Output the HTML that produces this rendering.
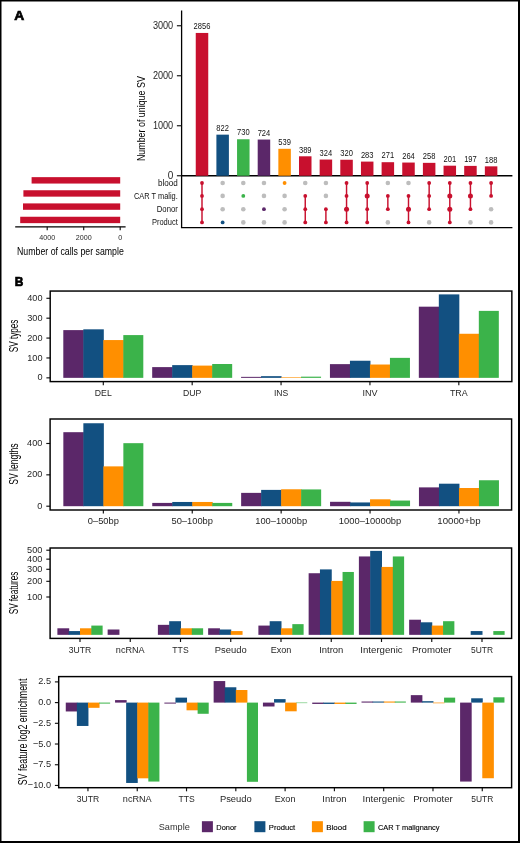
<!DOCTYPE html>
<html><head><meta charset="utf-8"><style>
html,body{margin:0;padding:0;background:#fff;}
svg{display:block;will-change:transform;}
text{font-family:"Liberation Sans", sans-serif;}
</style></head><body>
<svg width="520" height="843" viewBox="0 0 520 843">
<rect x="0" y="0" width="520" height="843" fill="#000"/>
<rect x="1.5" y="1.5" width="516.5" height="839.5" fill="#fff"/>
<text x="14.20" y="20.30" font-size="13.6" fill="#000" text-anchor="start" font-weight="bold" stroke="#000" stroke-width="0.7" textLength="10" lengthAdjust="spacingAndGlyphs">A</text>
<text x="14.80" y="286.30" font-size="12.6" fill="#000" text-anchor="start" font-weight="bold" stroke="#000" stroke-width="0.7" textLength="8.6" lengthAdjust="spacingAndGlyphs">B</text>
<line x1="181.60" y1="10.50" x2="181.60" y2="175.75" stroke="#000" stroke-width="1.3"/>
<line x1="180.95" y1="175.75" x2="512.40" y2="175.75" stroke="#000" stroke-width="1.3"/>
<line x1="176.90" y1="175.75" x2="181.60" y2="175.75" stroke="#111" stroke-width="1.15"/>
<text x="173.20" y="178.75" font-size="10" fill="#262626" text-anchor="end">0</text>
<line x1="176.90" y1="125.75" x2="181.60" y2="125.75" stroke="#111" stroke-width="1.15"/>
<text x="173.20" y="128.75" font-size="10" fill="#262626" text-anchor="end" textLength="20.30" lengthAdjust="spacingAndGlyphs">1000</text>
<line x1="176.90" y1="75.75" x2="181.60" y2="75.75" stroke="#111" stroke-width="1.15"/>
<text x="173.20" y="78.75" font-size="10" fill="#262626" text-anchor="end" textLength="20.30" lengthAdjust="spacingAndGlyphs">2000</text>
<line x1="176.90" y1="25.75" x2="181.60" y2="25.75" stroke="#111" stroke-width="1.15"/>
<text x="173.20" y="28.75" font-size="10" fill="#262626" text-anchor="end" textLength="20.30" lengthAdjust="spacingAndGlyphs">3000</text>
<text x="145.20" y="118.65" font-size="11" fill="#000" text-anchor="middle" textLength="84.90" lengthAdjust="spacingAndGlyphs" transform="rotate(-90 145.20 118.65)">Number of unique SV</text>
<rect x="195.75" y="32.95" width="12.50" height="142.80" fill="#c8102e"/>
<text x="202.00" y="29.15" font-size="8.3" fill="#111" text-anchor="middle" textLength="16.80" lengthAdjust="spacingAndGlyphs">2856</text>
<rect x="216.40" y="134.65" width="12.50" height="41.10" fill="#125081"/>
<text x="222.65" y="130.85" font-size="8.3" fill="#111" text-anchor="middle" textLength="12.60" lengthAdjust="spacingAndGlyphs">822</text>
<rect x="237.05" y="139.25" width="12.50" height="36.50" fill="#3bb34a"/>
<text x="243.30" y="135.45" font-size="8.3" fill="#111" text-anchor="middle" textLength="12.60" lengthAdjust="spacingAndGlyphs">730</text>
<rect x="257.70" y="139.55" width="12.50" height="36.20" fill="#5b2769"/>
<text x="263.95" y="135.75" font-size="8.3" fill="#111" text-anchor="middle" textLength="12.60" lengthAdjust="spacingAndGlyphs">724</text>
<rect x="278.35" y="148.80" width="12.50" height="26.95" fill="#ff8f00"/>
<text x="284.60" y="145.00" font-size="8.3" fill="#111" text-anchor="middle" textLength="12.60" lengthAdjust="spacingAndGlyphs">539</text>
<rect x="299.00" y="156.30" width="12.50" height="19.45" fill="#c8102e"/>
<text x="305.25" y="152.50" font-size="8.3" fill="#111" text-anchor="middle" textLength="12.60" lengthAdjust="spacingAndGlyphs">389</text>
<rect x="319.65" y="159.55" width="12.50" height="16.20" fill="#c8102e"/>
<text x="325.90" y="155.75" font-size="8.3" fill="#111" text-anchor="middle" textLength="12.60" lengthAdjust="spacingAndGlyphs">324</text>
<rect x="340.30" y="159.75" width="12.50" height="16.00" fill="#c8102e"/>
<text x="346.55" y="155.95" font-size="8.3" fill="#111" text-anchor="middle" textLength="12.60" lengthAdjust="spacingAndGlyphs">320</text>
<rect x="360.95" y="161.60" width="12.50" height="14.15" fill="#c8102e"/>
<text x="367.20" y="157.80" font-size="8.3" fill="#111" text-anchor="middle" textLength="12.60" lengthAdjust="spacingAndGlyphs">283</text>
<rect x="381.60" y="162.20" width="12.50" height="13.55" fill="#c8102e"/>
<text x="387.85" y="158.40" font-size="8.3" fill="#111" text-anchor="middle" textLength="12.60" lengthAdjust="spacingAndGlyphs">271</text>
<rect x="402.25" y="162.55" width="12.50" height="13.20" fill="#c8102e"/>
<text x="408.50" y="158.75" font-size="8.3" fill="#111" text-anchor="middle" textLength="12.60" lengthAdjust="spacingAndGlyphs">264</text>
<rect x="422.90" y="162.85" width="12.50" height="12.90" fill="#c8102e"/>
<text x="429.15" y="159.05" font-size="8.3" fill="#111" text-anchor="middle" textLength="12.60" lengthAdjust="spacingAndGlyphs">258</text>
<rect x="443.55" y="165.70" width="12.50" height="10.05" fill="#c8102e"/>
<text x="449.80" y="161.90" font-size="8.3" fill="#111" text-anchor="middle" textLength="12.60" lengthAdjust="spacingAndGlyphs">201</text>
<rect x="464.20" y="165.90" width="12.50" height="9.85" fill="#c8102e"/>
<text x="470.45" y="162.10" font-size="8.3" fill="#111" text-anchor="middle" textLength="12.60" lengthAdjust="spacingAndGlyphs">197</text>
<rect x="484.85" y="166.35" width="12.50" height="9.40" fill="#c8102e"/>
<text x="491.10" y="162.55" font-size="8.3" fill="#111" text-anchor="middle" textLength="12.60" lengthAdjust="spacingAndGlyphs">188</text>
<line x1="181.60" y1="175.75" x2="181.60" y2="227.70" stroke="#000" stroke-width="1.3"/>
<line x1="180.95" y1="227.70" x2="512.40" y2="227.70" stroke="#000" stroke-width="1.3"/>
<text x="177.80" y="185.70" font-size="8.6" fill="#111" text-anchor="end" textLength="19.80" lengthAdjust="spacingAndGlyphs">blood</text>
<text x="177.80" y="198.70" font-size="8.6" fill="#111" text-anchor="end" textLength="43.80" lengthAdjust="spacingAndGlyphs">CAR T malig.</text>
<text x="177.80" y="212.00" font-size="8.6" fill="#111" text-anchor="end" textLength="21.00" lengthAdjust="spacingAndGlyphs">Donor</text>
<text x="177.80" y="225.00" font-size="8.6" fill="#111" text-anchor="end" textLength="25.90" lengthAdjust="spacingAndGlyphs">Product</text>
<line x1="202.00" y1="183.00" x2="202.00" y2="222.40" stroke="#c8102e" stroke-width="1.45"/>
<circle cx="202.00" cy="183.00" r="1.9" fill="#c8102e"/>
<circle cx="202.00" cy="195.90" r="1.9" fill="#c8102e"/>
<circle cx="202.00" cy="209.20" r="1.9" fill="#c8102e"/>
<circle cx="202.00" cy="222.40" r="1.9" fill="#c8102e"/>
<circle cx="222.65" cy="183.00" r="2.3" fill="#bdbdbd"/>
<circle cx="222.65" cy="195.90" r="2.3" fill="#bdbdbd"/>
<circle cx="222.65" cy="209.20" r="2.3" fill="#bdbdbd"/>
<circle cx="222.65" cy="222.40" r="1.9" fill="#125081"/>
<circle cx="243.30" cy="183.00" r="2.3" fill="#bdbdbd"/>
<circle cx="243.30" cy="209.20" r="2.3" fill="#bdbdbd"/>
<circle cx="243.30" cy="222.40" r="2.3" fill="#bdbdbd"/>
<circle cx="243.30" cy="195.90" r="1.9" fill="#3bb34a"/>
<circle cx="263.95" cy="183.00" r="2.3" fill="#bdbdbd"/>
<circle cx="263.95" cy="195.90" r="2.3" fill="#bdbdbd"/>
<circle cx="263.95" cy="222.40" r="2.3" fill="#bdbdbd"/>
<circle cx="263.95" cy="209.20" r="1.9" fill="#5b2769"/>
<circle cx="284.60" cy="195.90" r="2.3" fill="#bdbdbd"/>
<circle cx="284.60" cy="209.20" r="2.3" fill="#bdbdbd"/>
<circle cx="284.60" cy="222.40" r="2.3" fill="#bdbdbd"/>
<circle cx="284.60" cy="183.00" r="1.9" fill="#ff8f00"/>
<circle cx="305.25" cy="183.00" r="2.3" fill="#bdbdbd"/>
<line x1="305.25" y1="195.90" x2="305.25" y2="222.40" stroke="#c8102e" stroke-width="1.45"/>
<circle cx="305.25" cy="195.90" r="1.9" fill="#c8102e"/>
<circle cx="305.25" cy="209.20" r="1.9" fill="#c8102e"/>
<circle cx="305.25" cy="222.40" r="1.9" fill="#c8102e"/>
<circle cx="325.90" cy="183.00" r="2.3" fill="#bdbdbd"/>
<circle cx="325.90" cy="195.90" r="2.3" fill="#bdbdbd"/>
<line x1="325.90" y1="209.20" x2="325.90" y2="222.40" stroke="#c8102e" stroke-width="1.45"/>
<circle cx="325.90" cy="209.20" r="1.9" fill="#c8102e"/>
<circle cx="325.90" cy="222.40" r="1.9" fill="#c8102e"/>
<line x1="346.55" y1="183.00" x2="346.55" y2="222.40" stroke="#c8102e" stroke-width="1.45"/>
<circle cx="346.55" cy="183.00" r="1.9" fill="#c8102e"/>
<circle cx="346.55" cy="195.90" r="1.9" fill="#c8102e"/>
<circle cx="346.55" cy="209.20" r="2.5" fill="#c8102e"/>
<circle cx="346.55" cy="222.40" r="1.9" fill="#c8102e"/>
<line x1="367.20" y1="183.00" x2="367.20" y2="222.40" stroke="#c8102e" stroke-width="1.45"/>
<circle cx="367.20" cy="183.00" r="1.9" fill="#c8102e"/>
<circle cx="367.20" cy="195.90" r="2.5" fill="#c8102e"/>
<circle cx="367.20" cy="209.20" r="1.9" fill="#c8102e"/>
<circle cx="367.20" cy="222.40" r="1.9" fill="#c8102e"/>
<circle cx="387.85" cy="183.00" r="2.3" fill="#bdbdbd"/>
<circle cx="387.85" cy="222.40" r="2.3" fill="#bdbdbd"/>
<line x1="387.85" y1="195.90" x2="387.85" y2="209.20" stroke="#c8102e" stroke-width="1.45"/>
<circle cx="387.85" cy="195.90" r="1.9" fill="#c8102e"/>
<circle cx="387.85" cy="209.20" r="1.9" fill="#c8102e"/>
<circle cx="408.50" cy="183.00" r="2.3" fill="#bdbdbd"/>
<line x1="408.50" y1="195.90" x2="408.50" y2="222.40" stroke="#c8102e" stroke-width="1.45"/>
<circle cx="408.50" cy="195.90" r="1.9" fill="#c8102e"/>
<circle cx="408.50" cy="209.20" r="2.5" fill="#c8102e"/>
<circle cx="408.50" cy="222.40" r="1.9" fill="#c8102e"/>
<circle cx="429.15" cy="222.40" r="2.3" fill="#bdbdbd"/>
<line x1="429.15" y1="183.00" x2="429.15" y2="209.20" stroke="#c8102e" stroke-width="1.45"/>
<circle cx="429.15" cy="183.00" r="1.9" fill="#c8102e"/>
<circle cx="429.15" cy="195.90" r="1.9" fill="#c8102e"/>
<circle cx="429.15" cy="209.20" r="1.9" fill="#c8102e"/>
<line x1="449.80" y1="183.00" x2="449.80" y2="222.40" stroke="#c8102e" stroke-width="1.45"/>
<circle cx="449.80" cy="183.00" r="1.9" fill="#c8102e"/>
<circle cx="449.80" cy="195.90" r="2.5" fill="#c8102e"/>
<circle cx="449.80" cy="209.20" r="2.5" fill="#c8102e"/>
<circle cx="449.80" cy="222.40" r="1.9" fill="#c8102e"/>
<circle cx="470.45" cy="222.40" r="2.3" fill="#bdbdbd"/>
<line x1="470.45" y1="183.00" x2="470.45" y2="209.20" stroke="#c8102e" stroke-width="1.45"/>
<circle cx="470.45" cy="183.00" r="1.9" fill="#c8102e"/>
<circle cx="470.45" cy="195.90" r="2.5" fill="#c8102e"/>
<circle cx="470.45" cy="209.20" r="1.9" fill="#c8102e"/>
<circle cx="491.10" cy="209.20" r="2.3" fill="#bdbdbd"/>
<circle cx="491.10" cy="222.40" r="2.3" fill="#bdbdbd"/>
<line x1="491.10" y1="183.00" x2="491.10" y2="195.90" stroke="#c8102e" stroke-width="1.45"/>
<circle cx="491.10" cy="183.00" r="1.9" fill="#c8102e"/>
<circle cx="491.10" cy="195.90" r="1.9" fill="#c8102e"/>
<line x1="15.20" y1="226.85" x2="125.60" y2="226.85" stroke="#000" stroke-width="1.3"/>
<line x1="47.20" y1="226.85" x2="47.20" y2="230.30" stroke="#111" stroke-width="1.15"/>
<text x="47.20" y="239.90" font-size="8.1" fill="#262626" text-anchor="middle" textLength="15.90" lengthAdjust="spacingAndGlyphs">4000</text>
<line x1="83.70" y1="226.85" x2="83.70" y2="230.30" stroke="#111" stroke-width="1.15"/>
<text x="83.70" y="239.90" font-size="8.1" fill="#262626" text-anchor="middle" textLength="15.90" lengthAdjust="spacingAndGlyphs">2000</text>
<line x1="120.20" y1="226.85" x2="120.20" y2="230.30" stroke="#111" stroke-width="1.15"/>
<text x="120.20" y="239.90" font-size="8.1" fill="#262626" text-anchor="middle" textLength="4.00" lengthAdjust="spacingAndGlyphs">0</text>
<rect x="31.60" y="177.15" width="88.60" height="6.40" fill="#c8102e"/>
<rect x="23.40" y="190.25" width="96.80" height="6.40" fill="#c8102e"/>
<rect x="23.00" y="203.40" width="97.20" height="6.40" fill="#c8102e"/>
<rect x="20.21" y="216.75" width="99.99" height="6.40" fill="#c8102e"/>
<text x="70.40" y="255.10" font-size="11" fill="#000" text-anchor="middle" textLength="106.75" lengthAdjust="spacingAndGlyphs">Number of calls per sample</text>
<rect x="63.30" y="330.11" width="20.50" height="47.74" fill="#5b2769"/>
<rect x="83.30" y="329.32" width="20.50" height="48.53" fill="#125081"/>
<rect x="103.30" y="340.06" width="20.50" height="37.79" fill="#ff8f00"/>
<rect x="123.30" y="335.09" width="20.00" height="42.76" fill="#3bb34a"/>
<line x1="103.30" y1="381.60" x2="103.30" y2="385.20" stroke="#111" stroke-width="1.15"/>
<text x="103.30" y="396.00" font-size="9.6" fill="#262626" text-anchor="middle" textLength="16.90" lengthAdjust="spacingAndGlyphs">DEL</text>
<rect x="152.18" y="367.11" width="20.50" height="10.74" fill="#5b2769"/>
<rect x="172.18" y="365.12" width="20.50" height="12.73" fill="#125081"/>
<rect x="192.18" y="365.60" width="20.50" height="12.25" fill="#ff8f00"/>
<rect x="212.18" y="364.01" width="20.00" height="13.84" fill="#3bb34a"/>
<line x1="192.18" y1="381.60" x2="192.18" y2="385.20" stroke="#111" stroke-width="1.15"/>
<text x="192.18" y="396.00" font-size="9.6" fill="#262626" text-anchor="middle" textLength="18.30" lengthAdjust="spacingAndGlyphs">DUP</text>
<rect x="241.06" y="376.86" width="20.50" height="0.99" fill="#5b2769"/>
<rect x="261.06" y="376.16" width="20.50" height="1.69" fill="#125081"/>
<rect x="281.06" y="377.25" width="20.50" height="0.60" fill="#ff8f00"/>
<rect x="301.06" y="376.66" width="20.00" height="1.19" fill="#3bb34a"/>
<line x1="281.06" y1="381.60" x2="281.06" y2="385.20" stroke="#111" stroke-width="1.15"/>
<text x="281.06" y="396.00" font-size="9.6" fill="#262626" text-anchor="middle" textLength="14.30" lengthAdjust="spacingAndGlyphs">INS</text>
<rect x="329.94" y="364.13" width="20.50" height="13.72" fill="#5b2769"/>
<rect x="349.94" y="360.74" width="20.50" height="17.11" fill="#125081"/>
<rect x="369.94" y="364.52" width="20.50" height="13.33" fill="#ff8f00"/>
<rect x="389.94" y="357.86" width="20.00" height="19.99" fill="#3bb34a"/>
<line x1="369.94" y1="381.60" x2="369.94" y2="385.20" stroke="#111" stroke-width="1.15"/>
<text x="369.94" y="396.00" font-size="9.6" fill="#262626" text-anchor="middle" textLength="15.00" lengthAdjust="spacingAndGlyphs">INV</text>
<rect x="418.82" y="306.68" width="20.50" height="71.17" fill="#5b2769"/>
<rect x="438.82" y="294.39" width="20.50" height="83.46" fill="#125081"/>
<rect x="458.82" y="333.77" width="20.50" height="44.08" fill="#ff8f00"/>
<rect x="478.82" y="310.88" width="20.00" height="66.97" fill="#3bb34a"/>
<line x1="458.82" y1="381.60" x2="458.82" y2="385.20" stroke="#111" stroke-width="1.15"/>
<text x="458.82" y="396.00" font-size="9.6" fill="#262626" text-anchor="middle" textLength="17.80" lengthAdjust="spacingAndGlyphs">TRA</text>
<line x1="46.40" y1="377.85" x2="50.20" y2="377.85" stroke="#111" stroke-width="1.15"/>
<text x="42.50" y="380.45" font-size="9.6" fill="#262626" text-anchor="end" textLength="5.10" lengthAdjust="spacingAndGlyphs">0</text>
<line x1="46.40" y1="357.96" x2="50.20" y2="357.96" stroke="#111" stroke-width="1.15"/>
<text x="42.50" y="360.56" font-size="9.6" fill="#262626" text-anchor="end" textLength="15.29" lengthAdjust="spacingAndGlyphs">100</text>
<line x1="46.40" y1="338.07" x2="50.20" y2="338.07" stroke="#111" stroke-width="1.15"/>
<text x="42.50" y="340.67" font-size="9.6" fill="#262626" text-anchor="end" textLength="15.29" lengthAdjust="spacingAndGlyphs">200</text>
<line x1="46.40" y1="318.18" x2="50.20" y2="318.18" stroke="#111" stroke-width="1.15"/>
<text x="42.50" y="320.78" font-size="9.6" fill="#262626" text-anchor="end" textLength="15.29" lengthAdjust="spacingAndGlyphs">300</text>
<line x1="46.40" y1="298.29" x2="50.20" y2="298.29" stroke="#111" stroke-width="1.15"/>
<text x="42.50" y="300.89" font-size="9.6" fill="#262626" text-anchor="end" textLength="15.29" lengthAdjust="spacingAndGlyphs">400</text>
<rect x="50.20" y="291.05" width="461.65" height="90.55" fill="none" stroke="#000" stroke-width="1.45"/>
<text x="18.30" y="335.95" font-size="12" fill="#000" text-anchor="middle" textLength="32.50" lengthAdjust="spacingAndGlyphs" transform="rotate(-90 18.30 335.95)">SV types</text>
<rect x="63.34" y="432.19" width="20.50" height="74.01" fill="#5b2769"/>
<rect x="83.35" y="423.25" width="20.50" height="82.95" fill="#125081"/>
<rect x="103.35" y="466.37" width="20.50" height="39.83" fill="#ff8f00"/>
<rect x="123.35" y="443.17" width="20.00" height="63.03" fill="#3bb34a"/>
<line x1="103.35" y1="510.00" x2="103.35" y2="513.60" stroke="#111" stroke-width="1.15"/>
<text x="103.35" y="524.40" font-size="9.6" fill="#262626" text-anchor="middle" textLength="31.10" lengthAdjust="spacingAndGlyphs">0–50bp</text>
<rect x="152.25" y="502.91" width="20.50" height="3.29" fill="#5b2769"/>
<rect x="172.25" y="501.97" width="20.50" height="4.23" fill="#125081"/>
<rect x="192.25" y="501.97" width="20.50" height="4.23" fill="#ff8f00"/>
<rect x="212.25" y="502.91" width="20.00" height="3.29" fill="#3bb34a"/>
<line x1="192.25" y1="510.00" x2="192.25" y2="513.60" stroke="#111" stroke-width="1.15"/>
<text x="192.25" y="524.40" font-size="9.6" fill="#262626" text-anchor="middle" textLength="41.50" lengthAdjust="spacingAndGlyphs">50–100bp</text>
<rect x="241.14" y="492.87" width="20.50" height="13.33" fill="#5b2769"/>
<rect x="261.15" y="489.89" width="20.50" height="16.31" fill="#125081"/>
<rect x="281.15" y="489.27" width="20.50" height="16.93" fill="#ff8f00"/>
<rect x="301.15" y="489.42" width="20.00" height="16.78" fill="#3bb34a"/>
<line x1="281.15" y1="510.00" x2="281.15" y2="513.60" stroke="#111" stroke-width="1.15"/>
<text x="281.15" y="524.40" font-size="9.6" fill="#262626" text-anchor="middle" textLength="51.90" lengthAdjust="spacingAndGlyphs">100–1000bp</text>
<rect x="330.05" y="501.81" width="20.50" height="4.39" fill="#5b2769"/>
<rect x="350.05" y="502.44" width="20.50" height="3.76" fill="#125081"/>
<rect x="370.05" y="499.30" width="20.50" height="6.90" fill="#ff8f00"/>
<rect x="390.05" y="500.56" width="20.00" height="5.64" fill="#3bb34a"/>
<line x1="370.05" y1="510.00" x2="370.05" y2="513.60" stroke="#111" stroke-width="1.15"/>
<text x="370.05" y="524.40" font-size="9.6" fill="#262626" text-anchor="middle" textLength="62.40" lengthAdjust="spacingAndGlyphs">1000–10000bp</text>
<rect x="418.95" y="487.38" width="20.50" height="18.82" fill="#5b2769"/>
<rect x="438.95" y="483.70" width="20.50" height="22.50" fill="#125081"/>
<rect x="458.95" y="488.01" width="20.50" height="18.19" fill="#ff8f00"/>
<rect x="478.95" y="480.25" width="20.00" height="25.95" fill="#3bb34a"/>
<line x1="458.95" y1="510.00" x2="458.95" y2="513.60" stroke="#111" stroke-width="1.15"/>
<text x="458.95" y="524.40" font-size="9.6" fill="#262626" text-anchor="middle" textLength="43.30" lengthAdjust="spacingAndGlyphs">10000+bp</text>
<line x1="46.30" y1="506.20" x2="50.10" y2="506.20" stroke="#111" stroke-width="1.15"/>
<text x="42.40" y="508.80" font-size="9.6" fill="#262626" text-anchor="end" textLength="5.10" lengthAdjust="spacingAndGlyphs">0</text>
<line x1="46.30" y1="474.84" x2="50.10" y2="474.84" stroke="#111" stroke-width="1.15"/>
<text x="42.40" y="477.44" font-size="9.6" fill="#262626" text-anchor="end" textLength="15.29" lengthAdjust="spacingAndGlyphs">200</text>
<line x1="46.30" y1="443.48" x2="50.10" y2="443.48" stroke="#111" stroke-width="1.15"/>
<text x="42.40" y="446.08" font-size="9.6" fill="#262626" text-anchor="end" textLength="15.29" lengthAdjust="spacingAndGlyphs">400</text>
<rect x="50.10" y="419.00" width="461.50" height="91.00" fill="none" stroke="#000" stroke-width="1.45"/>
<text x="18.30" y="464.10" font-size="12" fill="#000" text-anchor="middle" textLength="41.40" lengthAdjust="spacingAndGlyphs" transform="rotate(-90 18.30 464.10)">SV lengths</text>
<rect x="57.39" y="628.29" width="11.81" height="6.56" fill="#5b2769"/>
<rect x="68.69" y="631.07" width="11.81" height="3.78" fill="#125081"/>
<rect x="80.00" y="628.29" width="11.81" height="6.56" fill="#ff8f00"/>
<rect x="91.31" y="625.58" width="11.31" height="9.27" fill="#3bb34a"/>
<line x1="80.00" y1="638.40" x2="80.00" y2="642.00" stroke="#111" stroke-width="1.15"/>
<text x="80.00" y="652.80" font-size="9.6" fill="#262626" text-anchor="middle" textLength="22.50" lengthAdjust="spacingAndGlyphs">3UTR</text>
<rect x="107.64" y="629.50" width="11.81" height="5.35" fill="#5b2769"/>
<line x1="130.25" y1="638.40" x2="130.25" y2="642.00" stroke="#111" stroke-width="1.15"/>
<text x="130.25" y="652.80" font-size="9.6" fill="#262626" text-anchor="middle" textLength="28.80" lengthAdjust="spacingAndGlyphs">ncRNA</text>
<rect x="157.89" y="624.84" width="11.81" height="10.01" fill="#5b2769"/>
<rect x="169.19" y="621.20" width="11.81" height="13.65" fill="#125081"/>
<rect x="180.50" y="628.29" width="11.81" height="6.56" fill="#ff8f00"/>
<rect x="191.81" y="628.29" width="11.31" height="6.56" fill="#3bb34a"/>
<line x1="180.50" y1="638.40" x2="180.50" y2="642.00" stroke="#111" stroke-width="1.15"/>
<text x="180.50" y="652.80" font-size="9.6" fill="#262626" text-anchor="middle" textLength="16.30" lengthAdjust="spacingAndGlyphs">TTS</text>
<rect x="208.14" y="628.29" width="11.81" height="6.56" fill="#5b2769"/>
<rect x="219.44" y="629.50" width="11.81" height="5.35" fill="#125081"/>
<rect x="230.75" y="631.07" width="11.81" height="3.78" fill="#ff8f00"/>
<line x1="230.75" y1="638.40" x2="230.75" y2="642.00" stroke="#111" stroke-width="1.15"/>
<text x="230.75" y="652.80" font-size="9.6" fill="#262626" text-anchor="middle" textLength="31.80" lengthAdjust="spacingAndGlyphs">Pseudo</text>
<rect x="258.39" y="625.58" width="11.81" height="9.27" fill="#5b2769"/>
<rect x="269.69" y="621.20" width="11.81" height="13.65" fill="#125081"/>
<rect x="281.00" y="628.29" width="11.81" height="6.56" fill="#ff8f00"/>
<rect x="292.31" y="624.14" width="11.31" height="10.71" fill="#3bb34a"/>
<line x1="281.00" y1="638.40" x2="281.00" y2="642.00" stroke="#111" stroke-width="1.15"/>
<text x="281.00" y="652.80" font-size="9.6" fill="#262626" text-anchor="middle" textLength="20.70" lengthAdjust="spacingAndGlyphs">Exon</text>
<rect x="308.64" y="573.23" width="11.81" height="61.62" fill="#5b2769"/>
<rect x="319.94" y="569.40" width="11.81" height="65.45" fill="#125081"/>
<rect x="331.25" y="580.92" width="11.81" height="53.93" fill="#ff8f00"/>
<rect x="342.56" y="571.97" width="11.31" height="62.88" fill="#3bb34a"/>
<line x1="331.25" y1="638.40" x2="331.25" y2="642.00" stroke="#111" stroke-width="1.15"/>
<text x="331.25" y="652.80" font-size="9.6" fill="#262626" text-anchor="middle" textLength="24.20" lengthAdjust="spacingAndGlyphs">Intron</text>
<rect x="358.89" y="556.45" width="11.81" height="78.40" fill="#5b2769"/>
<rect x="370.19" y="550.89" width="11.81" height="83.96" fill="#125081"/>
<rect x="381.50" y="566.93" width="11.81" height="67.92" fill="#ff8f00"/>
<rect x="392.81" y="556.45" width="11.31" height="78.40" fill="#3bb34a"/>
<line x1="381.50" y1="638.40" x2="381.50" y2="642.00" stroke="#111" stroke-width="1.15"/>
<text x="381.50" y="652.80" font-size="9.6" fill="#262626" text-anchor="middle" textLength="42.40" lengthAdjust="spacingAndGlyphs">Intergenic</text>
<rect x="409.14" y="619.71" width="11.81" height="15.14" fill="#5b2769"/>
<rect x="420.44" y="622.30" width="11.81" height="12.55" fill="#125081"/>
<rect x="431.75" y="625.58" width="11.81" height="9.27" fill="#ff8f00"/>
<rect x="443.06" y="621.20" width="11.31" height="13.65" fill="#3bb34a"/>
<line x1="431.75" y1="638.40" x2="431.75" y2="642.00" stroke="#111" stroke-width="1.15"/>
<text x="431.75" y="652.80" font-size="9.6" fill="#262626" text-anchor="middle" textLength="39.60" lengthAdjust="spacingAndGlyphs">Promoter</text>
<rect x="470.69" y="631.07" width="11.81" height="3.78" fill="#125081"/>
<rect x="493.31" y="631.07" width="11.31" height="3.78" fill="#3bb34a"/>
<line x1="482.00" y1="638.40" x2="482.00" y2="642.00" stroke="#111" stroke-width="1.15"/>
<text x="482.00" y="652.80" font-size="9.6" fill="#262626" text-anchor="middle" textLength="22.00" lengthAdjust="spacingAndGlyphs">5UTR</text>
<line x1="46.30" y1="597.00" x2="50.10" y2="597.00" stroke="#111" stroke-width="1.15"/>
<text x="42.40" y="599.60" font-size="9.6" fill="#262626" text-anchor="end" textLength="15.29" lengthAdjust="spacingAndGlyphs">100</text>
<line x1="46.30" y1="581.32" x2="50.10" y2="581.32" stroke="#111" stroke-width="1.15"/>
<text x="42.40" y="583.92" font-size="9.6" fill="#262626" text-anchor="end" textLength="15.29" lengthAdjust="spacingAndGlyphs">200</text>
<line x1="46.30" y1="569.29" x2="50.10" y2="569.29" stroke="#111" stroke-width="1.15"/>
<text x="42.40" y="571.89" font-size="9.6" fill="#262626" text-anchor="end" textLength="15.29" lengthAdjust="spacingAndGlyphs">300</text>
<line x1="46.30" y1="559.15" x2="50.10" y2="559.15" stroke="#111" stroke-width="1.15"/>
<text x="42.40" y="561.75" font-size="9.6" fill="#262626" text-anchor="end" textLength="15.29" lengthAdjust="spacingAndGlyphs">400</text>
<line x1="46.30" y1="550.21" x2="50.10" y2="550.21" stroke="#111" stroke-width="1.15"/>
<text x="42.40" y="552.81" font-size="9.6" fill="#262626" text-anchor="end" textLength="15.29" lengthAdjust="spacingAndGlyphs">500</text>
<rect x="50.10" y="548.00" width="461.50" height="90.40" fill="none" stroke="#000" stroke-width="1.45"/>
<text x="18.30" y="593.00" font-size="12" fill="#000" text-anchor="middle" textLength="42.60" lengthAdjust="spacingAndGlyphs" transform="rotate(-90 18.30 593.00)">SV features</text>
<rect x="65.77" y="702.60" width="11.59" height="8.86" fill="#5b2769"/>
<rect x="76.86" y="702.60" width="11.59" height="23.36" fill="#125081"/>
<rect x="87.95" y="702.60" width="11.59" height="5.22" fill="#ff8f00"/>
<rect x="99.04" y="702.60" width="11.09" height="0.99" fill="#3bb34a"/>
<line x1="87.95" y1="787.70" x2="87.95" y2="791.30" stroke="#111" stroke-width="1.15"/>
<text x="87.95" y="802.10" font-size="9.6" fill="#262626" text-anchor="middle" textLength="22.50" lengthAdjust="spacingAndGlyphs">3UTR</text>
<rect x="115.06" y="700.11" width="11.59" height="2.49" fill="#5b2769"/>
<rect x="126.15" y="702.60" width="11.59" height="80.36" fill="#125081"/>
<rect x="137.24" y="702.60" width="11.59" height="75.72" fill="#ff8f00"/>
<rect x="148.33" y="702.60" width="11.09" height="78.96" fill="#3bb34a"/>
<line x1="137.24" y1="787.70" x2="137.24" y2="791.30" stroke="#111" stroke-width="1.15"/>
<text x="137.24" y="802.10" font-size="9.6" fill="#262626" text-anchor="middle" textLength="28.80" lengthAdjust="spacingAndGlyphs">ncRNA</text>
<rect x="164.35" y="702.60" width="11.59" height="0.99" fill="#5b2769"/>
<rect x="175.44" y="697.63" width="11.59" height="4.97" fill="#125081"/>
<rect x="186.53" y="702.60" width="11.59" height="7.71" fill="#ff8f00"/>
<rect x="197.62" y="702.60" width="11.09" height="11.18" fill="#3bb34a"/>
<line x1="186.53" y1="787.70" x2="186.53" y2="791.30" stroke="#111" stroke-width="1.15"/>
<text x="186.53" y="802.10" font-size="9.6" fill="#262626" text-anchor="middle" textLength="16.30" lengthAdjust="spacingAndGlyphs">TTS</text>
<rect x="213.64" y="681.06" width="11.59" height="21.54" fill="#5b2769"/>
<rect x="224.73" y="687.27" width="11.59" height="15.33" fill="#125081"/>
<rect x="235.82" y="690.01" width="11.59" height="12.59" fill="#ff8f00"/>
<rect x="246.91" y="702.60" width="11.09" height="79.20" fill="#3bb34a"/>
<line x1="235.82" y1="787.70" x2="235.82" y2="791.30" stroke="#111" stroke-width="1.15"/>
<text x="235.82" y="802.10" font-size="9.6" fill="#262626" text-anchor="middle" textLength="31.80" lengthAdjust="spacingAndGlyphs">Pseudo</text>
<rect x="262.93" y="702.60" width="11.59" height="3.89" fill="#5b2769"/>
<rect x="274.02" y="699.12" width="11.59" height="3.48" fill="#125081"/>
<rect x="285.11" y="702.60" width="11.59" height="8.70" fill="#ff8f00"/>
<rect x="296.20" y="702.60" width="11.09" height="0.50" fill="#3bb34a"/>
<line x1="285.11" y1="787.70" x2="285.11" y2="791.30" stroke="#111" stroke-width="1.15"/>
<text x="285.11" y="802.10" font-size="9.6" fill="#262626" text-anchor="middle" textLength="20.70" lengthAdjust="spacingAndGlyphs">Exon</text>
<rect x="312.22" y="702.60" width="11.59" height="1.33" fill="#5b2769"/>
<rect x="323.31" y="702.60" width="11.59" height="1.33" fill="#125081"/>
<rect x="334.40" y="702.60" width="11.59" height="1.33" fill="#ff8f00"/>
<rect x="345.49" y="702.60" width="11.09" height="1.33" fill="#3bb34a"/>
<line x1="334.40" y1="787.70" x2="334.40" y2="791.30" stroke="#111" stroke-width="1.15"/>
<text x="334.40" y="802.10" font-size="9.6" fill="#262626" text-anchor="middle" textLength="24.20" lengthAdjust="spacingAndGlyphs">Intron</text>
<rect x="361.51" y="701.52" width="11.59" height="1.08" fill="#5b2769"/>
<rect x="372.60" y="701.52" width="11.59" height="1.08" fill="#125081"/>
<rect x="383.69" y="701.52" width="11.59" height="1.08" fill="#ff8f00"/>
<rect x="394.78" y="701.52" width="11.09" height="1.08" fill="#3bb34a"/>
<line x1="383.69" y1="787.70" x2="383.69" y2="791.30" stroke="#111" stroke-width="1.15"/>
<text x="383.69" y="802.10" font-size="9.6" fill="#262626" text-anchor="middle" textLength="42.40" lengthAdjust="spacingAndGlyphs">Intergenic</text>
<rect x="410.80" y="695.14" width="11.59" height="7.46" fill="#5b2769"/>
<rect x="421.89" y="701.19" width="11.59" height="1.41" fill="#125081"/>
<rect x="432.98" y="702.60" width="11.59" height="0.66" fill="#ff8f00"/>
<rect x="444.07" y="697.63" width="11.09" height="4.97" fill="#3bb34a"/>
<line x1="432.98" y1="787.70" x2="432.98" y2="791.30" stroke="#111" stroke-width="1.15"/>
<text x="432.98" y="802.10" font-size="9.6" fill="#262626" text-anchor="middle" textLength="39.60" lengthAdjust="spacingAndGlyphs">Promoter</text>
<rect x="460.09" y="702.60" width="11.59" height="78.96" fill="#5b2769"/>
<rect x="471.18" y="698.29" width="11.59" height="4.31" fill="#125081"/>
<rect x="482.27" y="702.60" width="11.59" height="75.64" fill="#ff8f00"/>
<rect x="493.36" y="697.30" width="11.09" height="5.30" fill="#3bb34a"/>
<line x1="482.27" y1="787.70" x2="482.27" y2="791.30" stroke="#111" stroke-width="1.15"/>
<text x="482.27" y="802.10" font-size="9.6" fill="#262626" text-anchor="middle" textLength="22.00" lengthAdjust="spacingAndGlyphs">5UTR</text>
<line x1="54.90" y1="681.89" x2="58.70" y2="681.89" stroke="#111" stroke-width="1.15"/>
<text x="51.00" y="684.49" font-size="9.6" fill="#262626" text-anchor="end" textLength="12.74" lengthAdjust="spacingAndGlyphs">2.5</text>
<line x1="54.90" y1="702.60" x2="58.70" y2="702.60" stroke="#111" stroke-width="1.15"/>
<text x="51.00" y="705.20" font-size="9.6" fill="#262626" text-anchor="end" textLength="12.74" lengthAdjust="spacingAndGlyphs">0.0</text>
<line x1="54.90" y1="723.31" x2="58.70" y2="723.31" stroke="#111" stroke-width="1.15"/>
<text x="51.00" y="725.91" font-size="9.6" fill="#262626" text-anchor="end" textLength="18.10" lengthAdjust="spacingAndGlyphs">−2.5</text>
<line x1="54.90" y1="744.02" x2="58.70" y2="744.02" stroke="#111" stroke-width="1.15"/>
<text x="51.00" y="746.62" font-size="9.6" fill="#262626" text-anchor="end" textLength="18.10" lengthAdjust="spacingAndGlyphs">−5.0</text>
<line x1="54.90" y1="764.74" x2="58.70" y2="764.74" stroke="#111" stroke-width="1.15"/>
<text x="51.00" y="767.34" font-size="9.6" fill="#262626" text-anchor="end" textLength="18.10" lengthAdjust="spacingAndGlyphs">−7.5</text>
<line x1="54.90" y1="785.45" x2="58.70" y2="785.45" stroke="#111" stroke-width="1.15"/>
<text x="51.00" y="788.05" font-size="9.6" fill="#262626" text-anchor="end" textLength="23.20" lengthAdjust="spacingAndGlyphs">−10.0</text>
<rect x="58.70" y="676.60" width="452.90" height="111.10" fill="none" stroke="#000" stroke-width="1.45"/>
<text x="26.60" y="731.95" font-size="12" fill="#000" text-anchor="middle" textLength="106.70" lengthAdjust="spacingAndGlyphs" transform="rotate(-90 26.60 731.95)">SV feature log2 enrichment</text>
<text x="158.70" y="830.30" font-size="9.2" fill="#333" text-anchor="start" textLength="31.10" lengthAdjust="spacingAndGlyphs">Sample</text>
<rect x="201.90" y="821.20" width="11.00" height="11.00" fill="#5b2769"/>
<text x="216.30" y="829.60" font-size="7.8" fill="#000" text-anchor="start" textLength="20.20" lengthAdjust="spacingAndGlyphs" stroke="#000" stroke-width="0.12">Donor</text>
<rect x="254.40" y="821.20" width="11.00" height="11.00" fill="#125081"/>
<text x="268.80" y="829.60" font-size="7.8" fill="#000" text-anchor="start" textLength="26.30" lengthAdjust="spacingAndGlyphs" stroke="#000" stroke-width="0.12">Product</text>
<rect x="311.90" y="821.20" width="11.00" height="11.00" fill="#ff8f00"/>
<text x="326.30" y="829.60" font-size="7.8" fill="#000" text-anchor="start" textLength="20.30" lengthAdjust="spacingAndGlyphs" stroke="#000" stroke-width="0.12">Blood</text>
<rect x="363.60" y="821.20" width="11.00" height="11.00" fill="#3bb34a"/>
<text x="378.00" y="829.60" font-size="7.8" fill="#000" text-anchor="start" textLength="61.40" lengthAdjust="spacingAndGlyphs" stroke="#000" stroke-width="0.12">CAR T malignancy</text>
</svg>
</body></html>
